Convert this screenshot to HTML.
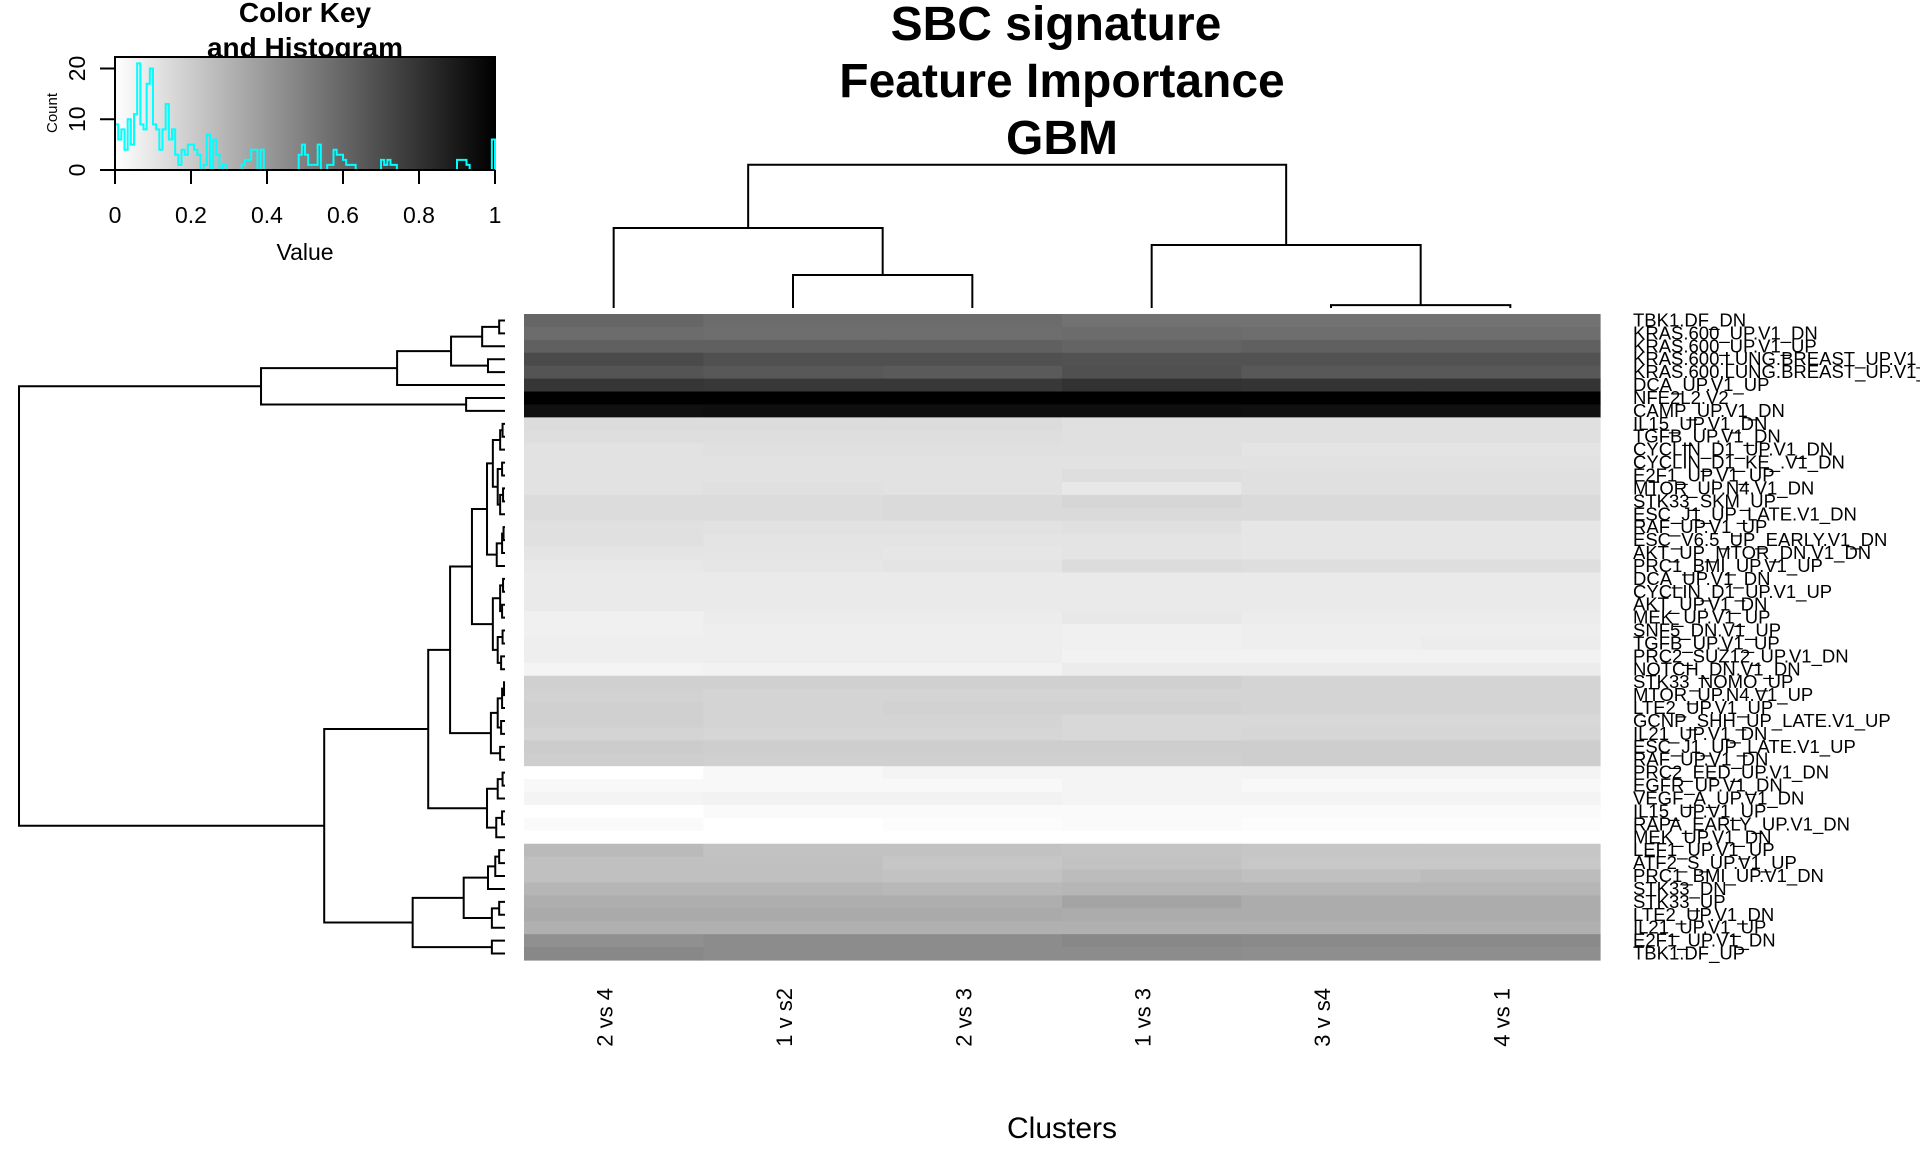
<!DOCTYPE html>
<html><head><meta charset="utf-8"><title>SBC signature Feature Importance GBM</title>
<style>html,body{margin:0;padding:0;background:#fff;overflow:hidden}svg{display:block;font-family:"Liberation Sans",Arial,sans-serif}</style>
</head><body>
<svg id="chart" width="1920" height="1152" viewBox="0 0 1920 1152" xmlns="http://www.w3.org/2000/svg">
<defs><linearGradient id="keyGrad" x1="0" y1="0" x2="1" y2="0"><stop offset="0" stop-color="#fff"/><stop offset="1" stop-color="#000"/></linearGradient></defs>
<g font-weight="bold" font-size="48" text-anchor="middle">
<text x="1056" y="40">SBC signature</text>
<text x="1062" y="97">Feature Importance</text>
<text x="1062" y="154">GBM</text>
</g>
<text x="1062" y="1138" font-size="30" text-anchor="middle">Clusters</text>
<g id="key">
<text x="305" y="22" font-size="28" font-weight="bold" text-anchor="middle">Color Key</text>
<text x="305" y="57" font-size="28" font-weight="bold" text-anchor="middle">and Histogram</text>
<rect x="115" y="57" width="380" height="113" fill="url(#keyGrad)" stroke="#000" stroke-width="2"/>
<text transform="translate(57,113) rotate(-90)" font-size="15" text-anchor="middle">Count</text>
<text x="305" y="260" font-size="23" text-anchor="middle">Value</text>
</g>
<g id="hist"></g>
<g id="heat"></g>
<g id="rowDendro"></g>
<g id="colDendro"></g>
<g id="rowLabels"></g>
<g id="colLabels"></g>
<g id="keyAxes"></g>
</svg>
<script>
const columns = ["2 vs 4","1 v s2","2 vs 3","1 vs 3","3 v s4","4 vs 1"];
const rowNames = ["TBK1.DF_DN","KRAS.600_UP.V1_DN","KRAS.600_UP.V1_UP","KRAS.600.LUNG.BREAST_UP.V1_DN","KRAS.600.LUNG.BREAST_UP.V1_UP","DCA_UP.V1_UP","NFE2L2.V2","CAMP_UP.V1_DN","IL15_UP.V1_DN","TGFB_UP.V1_DN","CYCLIN_D1_UP.V1_DN","CYCLIN_D1_KE_.V1_DN","E2F1_UP.V1_UP","MTOR_UP.N4.V1_DN","STK33_SKM_UP","ESC_J1_UP_LATE.V1_DN","RAF_UP.V1_UP","ESC_V6.5_UP_EARLY.V1_DN","AKT_UP_MTOR_DN.V1_DN","PRC1_BMI_UP.V1_UP","DCA_UP.V1_DN","CYCLIN_D1_UP.V1_UP","AKT_UP.V1_DN","MEK_UP.V1_UP","SNF5_DN.V1_UP","TGFB_UP.V1_UP","PRC2_SUZ12_UP.V1_DN","NOTCH_DN.V1_DN","STK33_NOMO_UP","MTOR_UP.N4.V1_UP","LTE2_UP.V1_UP","GCNP_SHH_UP_LATE.V1_UP","IL21_UP.V1_DN","ESC_J1_UP_LATE.V1_UP","RAF_UP.V1_DN","PRC2_EED_UP.V1_DN","EGFR_UP.V1_DN","VEGF_A_UP.V1_DN","IL15_UP.V1_UP","RAPA_EARLY_UP.V1_DN","MEK_UP.V1_DN","LEF1_UP.V1_UP","ATF2_S_UP.V1_UP","PRC1_BMI_UP.V1_DN","STK33_DN","STK33_UP","LTE2_UP.V1_DN","IL21_UP.V1_UP","E2F1_UP.V1_DN","TBK1.DF_UP"];
const values = [
[.600,.576,.576,.553,.553,.553],[.576,.569,.569,.576,.569,.569],[.624,.624,.624,.608,.624,.624],[.710,.686,.686,.678,.678,.678],[.671,.655,.647,.686,.655,.655],
[.788,.780,.780,.804,.796,.796],[1,1,1,1,1,1],[.937,.945,.945,.945,.937,.937],[.137,.137,.137,.122,.122,.122],[.129,.129,.129,.122,.122,.122],
[.114,.122,.122,.122,.106,.106],[.114,.114,.114,.114,.114,.114],[.114,.114,.114,.129,.122,.122],[.114,.122,.114,.090,.122,.122],[.137,.137,.145,.161,.145,.145],
[.137,.137,.145,.145,.145,.145],[.122,.114,.114,.122,.098,.098],[.122,.106,.106,.106,.098,.098],[.106,.106,.098,.106,.098,.098],[.090,.098,.106,.137,.129,.129],
[.082,.082,.082,.082,.082,.082],[.082,.082,.082,.082,.082,.082],[.082,.082,.082,.082,.082,.082],[.059,.075,.075,.090,.075,.075],[.059,.067,.067,.059,.067,.067],
[.067,.067,.067,.059,.067,.075],[.067,.067,.067,.051,.051,.051],[.043,.051,.051,.075,.075,.075],[.184,.184,.184,.184,.169,.169],[.176,.169,.169,.169,.169,.169],
[.184,.169,.176,.176,.169,.169],[.184,.169,.169,.153,.153,.153],[.169,.161,.161,.153,.161,.161],[.200,.192,.192,.192,.192,.192],[.192,.184,.184,.184,.192,.192],
[0,.027,.043,.043,.043,.043],[.027,.027,.027,.043,.027,.027],[.043,.051,.051,.043,.043,.043],[0,.020,.020,.020,.020,.020],[.020,0,.012,.020,.012,.012],
[0,0,0,0,0,0],[.271,.239,.239,.231,.224,.224],[.247,.247,.224,.239,.216,.216],[.247,.247,.239,.263,.247,.263],[.286,.286,.278,.286,.286,.286],
[.318,.318,.318,.357,.325,.325],[.333,.333,.333,.325,.325,.325],[.310,.310,.310,.310,.310,.310],[.435,.451,.451,.467,.459,.459],[.467,.451,.451,.451,.443,.443]];
const histCounts = [9,6,8,4,10,5,11,21,9,8,17,20,9,8,4,8,13,6,8,3,1,4,3,5,5,4,3,0,1,7,0,6,3,0,1,0,0,0,0,0,1,2,2,4,4,0,4,0,0,0,0,0,0,0,0,0,0,0,3,5,3,1,1,1,5,0,0,1,1,4,3,3,2,1,1,1,0,0,0,0,0,0,0,0,2,1,2,1,1,0,0,0,0,0,0,0,0,0,0,0,0,0,0,0,0,0,0,0,2,2,2,1,0,0,0,0,0,0,0,6];
const countTicks = [0,10,20];
const valueTicks = [0,0.2,0.4,0.6,0.8,1];
const valueTickLabels = ["0","0.2","0.4","0.6","0.8","1"];
const rowTree = [1.0,
 [0.502,[0.222,[0.111,[0.047,[0.012,0,1],2],[0.035,3,4]],5],[0.08,6,7]],
 [0.372,
  [0.158,
   [0.113,
    [0.068,
     [0.037,[0.025,[0.01,[0.005,8,9],10],[0.015,[0.006,11,12],[0.01,[0.004,13,14],15]]],[0.017,[0.006,[0.003,16,17],18],19]],
     [0.025,[0.01,[0.004,20,21],[0.006,22,23]],[0.015,[0.005,24,25],[0.008,26,27]]]],
    [0.029,[0.015,[0.006,[0.002,28,29],30],[0.008,31,32]],[0.01,33,34]]],
   [0.037,[0.015,[0.005,35,36],37],[0.018,[0.006,38,39],40]]],
  [0.19,[0.085,[0.035,[0.02,[0.012,41,42],43],44],[0.027,[0.012,45,46],47]],[0.027,48,49]]]];
const colTree = [1.0,[0.558,0,[0.23,1,2]],[0.44,3,[0.02,4,5]]];

const NS="http://www.w3.org/2000/svg";
function mk(tag,attrs,parent){const e=document.createElementNS(NS,tag);for(const k in attrs)e.setAttribute(k,attrs[k]);parent.appendChild(e);return e;}
const HX0=524,HX1=1600,HY0=314,HY1=960;
const cw=(HX1-HX0)/columns.length, rh=(HY1-HY0)/rowNames.length;
const colX=i=>HX0+cw*i, rowY=i=>HY0+rh*i;
const grayOf=v=>{const g=Math.round(255*(1-Math.max(0,Math.min(1,v))));return `rgb(${g},${g},${g})`;};
const heat=document.getElementById('heat');
values.forEach((row,r)=>row.forEach((v,c)=>{
 const el=mk('rect',{x:colX(c),y:rowY(r),width:cw+0.6,height:rh+0.6,fill:grayOf(v)},heat);
 
 
}));
const rl=document.getElementById('rowLabels');
rowNames.forEach((n,i)=>{
 const t=mk('text',{x:1633,y:rowY(i)+rh/2+6,'font-size':18.5},rl);t.textContent=n;
 
 
});
const cl=document.getElementById('colLabels');
columns.forEach((n,i)=>{
 const cx=colX(i)+cw/2;
 const t=mk('text',{transform:`translate(${cx-1},988) rotate(-90)`,'font-size':22,'text-anchor':'end'},cl);t.textContent=n;
 
 
});
function drawTree(tree,g,leafPos,hPos,horizontal){
 function rec(n){
  if(typeof n==='number')return {p:leafPos(n),h:0};
  const a=rec(n[1]),b=rec(n[2]),h=n[0];
  const H=hPos(h);
  let d;
  if(horizontal){d=`M${hPos(a.h)},${a.p}H${H}V${b.p}H${hPos(b.h)}`;}
  else{d=`M${a.p},${hPos(a.h)}V${H}H${b.p}V${hPos(b.h)}`;}
  const el=mk('path',{d:d,fill:'none',stroke:'#000','stroke-width':2},g);
  
  
  return {p:(a.p+b.p)/2,h:h};
 }
 rec(tree);
}
drawTree(rowTree,document.getElementById('rowDendro'),i=>rowY(i)+rh/2,h=>505-h*486,true);
drawTree(colTree,document.getElementById('colDendro'),i=>colX(i)+cw/2,h=>308-h*143.3,false);
const KX0=115,KX1=495,KY0=170;
const kx=v=>KX0+v*(KX1-KX0), ky=c=>KY0-c*(101.5/20);
const ka=document.getElementById('keyAxes');
let e=mk('line',{x1:kx(0),x2:kx(1),y1:KY0,y2:KY0,stroke:'#000','stroke-width':2},ka);


valueTicks.forEach((v,i)=>{
 const tk=mk('line',{x1:kx(v),x2:kx(v),y1:KY0,y2:184,stroke:'#000','stroke-width':2},ka);
 
 
 const t=mk('text',{x:kx(v),y:223,'font-size':23,'text-anchor':'middle'},ka);t.textContent=valueTickLabels[i];
 
 
});
e=mk('line',{x1:KX0,x2:KX0,y1:ky(0),y2:ky(20),stroke:'#000','stroke-width':2},ka);


countTicks.forEach(c=>{
 const tk=mk('line',{x1:100,x2:KX0,y1:ky(c),y2:ky(c),stroke:'#000','stroke-width':2},ka);
 
 
 const t=mk('text',{transform:`translate(85,${ky(c)}) rotate(-90)`,'font-size':23,'text-anchor':'middle'},ka);t.textContent=String(c);
 
 
});
const hg=document.getElementById('hist');
const bw=1/histCounts.length;
let d=`M${kx(0)},${ky(0)}`;
histCounts.forEach((c,i)=>{d+=`V${ky(c)}H${kx((i+1)*bw)}`;});
d+=`V${ky(0)}`;
const hp=mk('path',{d:d,fill:'none',stroke:'#00ffff','stroke-width':2},hg);


</script>
</body></html>
